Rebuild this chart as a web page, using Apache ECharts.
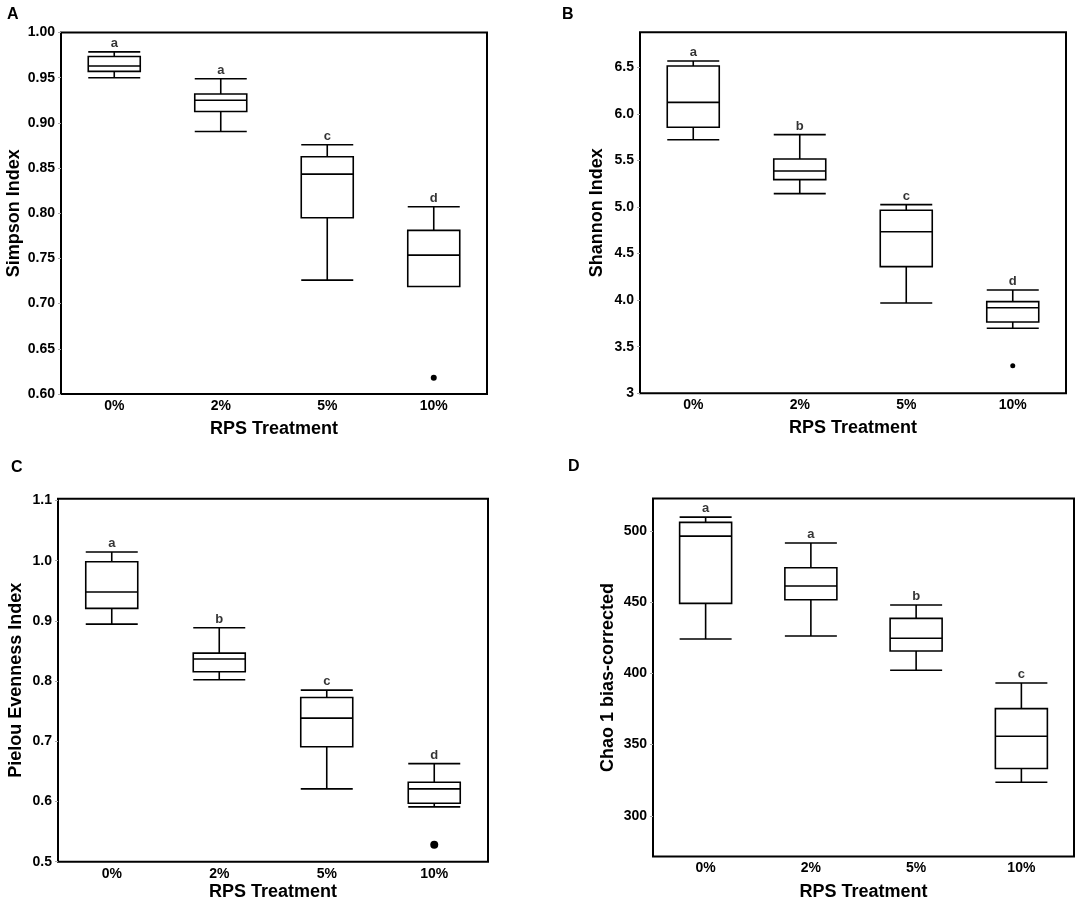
<!DOCTYPE html>
<html lang="en">

<head>
    <meta charset="UTF-8">
    <title>RPS Treatment diversity indices</title>
    <style>
        html, body { margin: 0; padding: 0; background: #fff; }
        #main { width: 1084px; height: 903px; }
    </style>
</head>

<body>
    <div id="main"></div>

    <script src="https://cdn.jsdelivr.net/npm/echarts@6/dist/echarts.min.js"></script>
    <script>
        // categories (x axis)
        var categories = ['0%', '2%', '5%', '10%'];

        // box data: [low whisker, Q1, median, Q3, high whisker]
        var simpsonBox = [
            [0.950, 0.957, 0.963, 0.9735, 0.9786],
            [0.8905, 0.9126, 0.925, 0.932, 0.9488],
            [0.726, 0.795, 0.8433, 0.8625, 0.8758],
            [0.719, 0.719, 0.7537, 0.781, 0.8072]
        ];
        var simpsonOutliers = [[3, 0.618]];
        var simpsonLetters = ['a', 'a', 'c', 'd'];
        var simpsonTicks = [0.60, 0.65, 0.70, 0.75, 0.80, 0.85, 0.90, 0.95, 1.00];

        var shannonBox = [
            [5.723, 5.856, 6.124, 6.514, 6.568],
            [5.144, 5.294, 5.387, 5.516, 5.777],
            [3.970, 4.360, 4.735, 4.965, 5.026],
            [3.698, 3.766, 3.919, 3.984, 4.109]
        ];
        var shannonOutliers = [[3, 3.297]];
        var shannonLetters = ['a', 'b', 'c', 'd'];
        var shannonTicks = [3, 3.5, 4.0, 4.5, 5.0, 5.5, 6.0, 6.5];

        var pielouBox = [
            [0.8947, 0.9208, 0.948, 0.9983, 1.0144],
            [0.8022, 0.8155, 0.8366, 0.8465, 0.8886],
            [0.621, 0.6909, 0.7385, 0.7728, 0.785],
            [0.5911, 0.5972, 0.621, 0.632, 0.663]
        ];
        var pielouOutliers = [[3, 0.528]];
        var pielouLetters = ['a', 'b', 'c', 'd'];
        var pielouTicks = [0.5, 0.6, 0.7, 0.8, 0.9, 1.0, 1.1];

        var chaoBox = [
            [424.2, 449.2, 496.5, 506.1, 509.8],
            [426.3, 451.8, 461.4, 474.3, 491.6],
            [402.2, 415.8, 424.7, 438.7, 448.1],
            [323.6, 333.2, 355.9, 375.3, 393.3]
        ];
        var chaoOutliers = [];
        var chaoLetters = ['a', 'a', 'b', 'c'];
        var chaoTicks = [300, 350, 400, 450, 500];

        var FONT = '"Liberation Sans", Arial, sans-serif';

        // one panel per entry
        var panels = [
            {
                letter: 'A', lx: 7, ly: 7,
                grid: { left: 61, top: 32.5, width: 426, height: 361.5 },
                yName: 'Simpson Index', yGap: 38, xGap: 26,
                min: 0.6, max: 1.0, ticks: simpsonTicks,
                fmt: function (v) { return v.toFixed(2); },
                box: simpsonBox, outliers: simpsonOutliers, letters: simpsonLetters, dot: 6
            },
            {
                letter: 'B', lx: 562, ly: 7,
                grid: { left: 640, top: 32.3, width: 426, height: 361 },
                yName: 'Shannon Index', yGap: 34, xGap: 26,
                min: 3, max: 6.876, ticks: shannonTicks,
                fmt: function (v) { return v === 3 ? '3' : v.toFixed(1); },
                box: shannonBox, outliers: shannonOutliers, letters: shannonLetters, dot: 5
            },
            {
                letter: 'C', lx: 11, ly: 460,
                grid: { left: 58, top: 498.7, width: 430, height: 363 },
                yName: 'Pielou Evenness Index', yGap: 33, xGap: 21,
                min: 0.5, max: 1.103, ticks: pielouTicks,
                fmt: function (v) { return v.toFixed(1); },
                box: pielouBox, outliers: pielouOutliers, letters: pielouLetters, dot: 8
            },
            {
                letter: 'D', lx: 568, ly: 459,
                grid: { left: 653, top: 498.5, width: 421, height: 358 },
                yName: 'Chao 1 bias-corrected', yGap: 36, xGap: 27,
                min: 271.4, max: 522.9, ticks: chaoTicks,
                fmt: function (v) { return String(Math.round(v)); },
                box: chaoBox, outliers: chaoOutliers, letters: chaoLetters, dot: 6
            }
        ];

        var option = {
            animation: false,
            backgroundColor: '#fff',
            textStyle: { fontFamily: FONT },
            grid: [],
            xAxis: [],
            yAxis: [],
            series: [],
            graphic: []
        };

        panels.forEach(function (p, i) {
            option.grid.push({
                left: p.grid.left, top: p.grid.top,
                width: p.grid.width, height: p.grid.height,
                show: true, borderColor: '#000', borderWidth: 2,
                backgroundColor: '#fff'
            });
            option.xAxis.push({
                type: 'category', gridIndex: i, data: categories,
                boundaryGap: true,
                name: 'RPS Treatment', nameLocation: 'middle', nameGap: p.xGap,
                nameTextStyle: { fontSize: 18, fontWeight: 'bold', color: '#000', fontFamily: FONT },
                axisLine: { show: false },
                axisTick: { show: false },
                splitLine: { show: false },
                axisLabel: { color: '#000', fontSize: 14, fontWeight: 'bold', margin: 5, fontFamily: FONT }
            });
            option.yAxis.push({
                type: 'value', gridIndex: i, min: p.min, max: p.max,
                name: p.yName, nameLocation: 'middle', nameGap: p.yGap,
                nameTextStyle: { fontSize: 18, fontWeight: 'bold', color: '#000', fontFamily: FONT },
                axisLine: { show: false },
                splitLine: { show: false },
                axisTick: { show: true, length: 3, customValues: p.ticks, lineStyle: { color: '#aaa', width: 1 } },
                axisLabel: {
                    color: '#000', fontSize: 14, fontWeight: 'bold', margin: 6, fontFamily: FONT,
                    customValues: p.ticks, formatter: p.fmt
                }
            });
            option.series.push({
                type: 'boxplot', xAxisIndex: i, yAxisIndex: i,
                data: p.box,
                boxWidth: [52, 52],
                itemStyle: { color: '#fff', borderColor: '#000', borderWidth: 1.6 },
                emphasis: { disabled: true }
            });
            if (p.outliers.length) {
                option.series.push({
                    type: 'scatter', xAxisIndex: i, yAxisIndex: i,
                    data: p.outliers, symbol: 'circle', symbolSize: p.dot,
                    itemStyle: { color: '#000', opacity: 1 }
                });
            }
            // significance letters just above each upper whisker
            option.series.push({
                type: 'scatter', xAxisIndex: i, yAxisIndex: i,
                data: p.box.map(function (b, k) { return [k, b[4]]; }),
                symbolSize: 0,
                itemStyle: { color: '#000' },
                label: {
                    show: true, position: 'top', distance: 2,
                    color: '#000', fontSize: 13, fontWeight: 'bold', fontFamily: FONT,
                    textBorderWidth: 0,
                    formatter: function (d) { return p.letters[d.dataIndex]; }
                },
                silent: true
            });
            option.graphic.push({
                type: 'text', left: p.lx, top: p.ly,
                style: { text: p.letter, fill: '#000', font: 'bold 16px ' + FONT }
            });
        });

        var myChart = echarts.init(document.getElementById('main'));
        myChart.setOption(option);
    </script>
</body>

</html>
